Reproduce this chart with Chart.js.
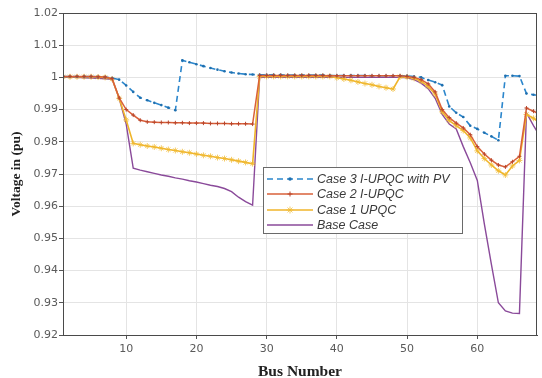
<!DOCTYPE html>
<html><head><meta charset="utf-8">
<script src="https://cdn.jsdelivr.net/npm/chart.js@4"></script>
<style>html,body{margin:0;padding:0;background:#fff;} canvas{display:block;}</style>
</head><body>
<canvas id="c" width="542" height="378"></canvas>
<script>
const buses = [1,2,3,4,5,6,7,8,9,10,11,12,13,14,15,16,17,18,19,20,21,22,23,24,25,26,27,28,29,30,31,32,33,34,35,36,37,38,39,40,41,42,43,44,45,46,47,48,49,50,51,52,53,54,55,56,57,58,59,60,61,62,63,64,65,66,67,68,69];

const case3 = [1.0003,1.0003,1.0003,1.0003,1.0003,1.0002,1.0001,0.9998,0.9993,0.9975,
  0.9955,0.9937,0.9929,0.9921,0.9914,0.9906,0.9898,1.0053,1.0047,1.0041,
  1.0035,1.0029,1.0024,1.0019,1.0015,1.0012,1.0010,1.0009,1.0008,1.0008,
  1.0008,1.0008,1.0007,1.0007,1.0007,1.0007,1.0007,1.0007,1.0006,1.0006,
  1.0006,1.0006,1.0006,1.0006,1.0005,1.0005,1.0005,1.0005,1.0005,1.0005,
  1.0003,1.0000,0.9992,0.9985,0.9976,0.9910,0.9890,0.9877,0.9850,0.9840,
  0.9828,0.9817,0.9805,1.0005,1.0005,1.0004,0.9950,0.9946,0.9944];

const case2 = [1.0003,1.0003,1.0003,1.0003,1.0003,1.0002,1.0001,0.9996,0.9936,0.9900,
  0.9883,0.9867,0.9862,0.9861,0.9860,0.9860,0.9859,0.9859,0.9858,0.9858,
  0.9858,0.9857,0.9857,0.9857,0.9856,0.9856,0.9856,0.9855,1.0006,1.0006,
  1.0006,1.0006,1.0006,1.0006,1.0006,1.0006,1.0006,1.0006,1.0005,1.0005,
  1.0005,1.0005,1.0005,1.0005,1.0005,1.0005,1.0005,1.0005,1.0005,1.0003,
  1.0000,0.9993,0.9980,0.9955,0.9900,0.9875,0.9858,0.9843,0.9822,0.9785,
  0.9762,0.9743,0.9728,0.9722,0.9738,0.9755,0.9905,0.9895,0.9883];

const case1 = [1.0002,1.0002,1.0002,1.0002,1.0002,1.0001,1.0000,0.9995,0.9935,0.9868,
  0.9795,0.9791,0.9787,0.9784,0.9780,0.9776,0.9773,0.9769,0.9766,0.9762,
  0.9758,0.9755,0.9751,0.9748,0.9744,0.9740,0.9736,0.9732,1.0003,1.0003,
  1.0003,1.0003,1.0003,1.0003,1.0003,1.0003,1.0003,1.0003,1.0003,0.9999,
  0.9995,0.9991,0.9986,0.9981,0.9977,0.9972,0.9968,0.9964,1.0002,1.0001,
  0.9997,0.9988,0.9972,0.9948,0.9893,0.9866,0.9850,0.9835,0.9812,0.9772,
  0.9748,0.9728,0.9710,0.9697,0.9725,0.9742,0.9885,0.9873,0.9858];

const baseCase = [1.0000,1.0000,1.0000,0.9999,0.9998,0.9997,0.9996,0.9994,0.9935,0.9855,
  0.9718,0.9712,0.9707,0.9702,0.9697,0.9693,0.9688,0.9684,0.9679,0.9675,
  0.9670,0.9665,0.9661,0.9655,0.9645,0.9628,0.9614,0.9603,1.0000,1.0000,
  1.0000,1.0000,1.0000,1.0000,1.0000,1.0000,1.0000,1.0000,1.0000,1.0000,
  1.0000,1.0000,1.0000,1.0000,1.0000,1.0000,1.0000,1.0000,1.0000,0.9999,
  0.9993,0.9982,0.9965,0.9935,0.9885,0.9855,0.9840,0.9785,0.9735,0.9680,
  0.9545,0.9420,0.9300,0.9275,0.9268,0.9267,0.9890,0.9850,0.9815];

const seriesLabels = ['Case 3 I-UPQC with PV','Case 2 I-UPQC','Case 1 UPQC','Base Case'];
const xTicks = [10,20,30,40,50,60];
const yTicks = [0.92,0.93,0.94,0.95,0.96,0.97,0.98,0.99,1.00,1.01,1.02];
const yTickLabels = ['0.92','0.93','0.94','0.95','0.96','0.97','0.98','0.99','1','1.01','1.02'];
const xTitle = 'Bus Number';
const yTitle = 'Voltage in (pu)';

function pts(arr){ return buses.map((b,i)=>({x:b, y:arr[i]})); }

const datasets = [
  {label:seriesLabels[0], data:pts(case3), borderColor:'#2b86cc', backgroundColor:'#2b86cc',
   borderWidth:1.6, borderDash:[6,4], pointStyle:'circle', pointRadius:1.3, pointBorderWidth:0,
   pointBackgroundColor:'#1f6fae', order:1},
  {label:seriesLabels[1], data:pts(case2), borderColor:'#d9603a', backgroundColor:'#d9603a',
   borderWidth:1.5, pointStyle:'cross', pointRadius:2, pointBorderWidth:1,
   pointBorderColor:'#b9452a', order:0},
  {label:seriesLabels[2], data:pts(case1), borderColor:'#f0b52a', backgroundColor:'rgba(240,190,60,0.5)',
   borderWidth:1.6, pointStyle:'star', pointRadius:3, pointBorderWidth:1,
   pointBorderColor:'rgba(240,185,50,0.75)', order:2},
  {label:seriesLabels[3], data:pts(baseCase), borderColor:'#8a4a9a', backgroundColor:'#8a4a9a',
   borderWidth:1.4, pointRadius:0, order:3}
];
datasets.forEach(d=>{ d.tension=0; d.fill=false; });

const bgPlugin = {
  id:'bg',
  beforeDraw(chart){ const c=chart.ctx; c.save(); c.fillStyle='#fff'; c.fillRect(0,0,chart.width,chart.height); c.restore(); }
};

const boxLegendPlugin = {
  id:'boxLegend',
  afterDraw(chart){
    const ctx = chart.ctx, a = chart.chartArea;
    ctx.save();
    ctx.strokeStyle = '#4a4a4a'; ctx.lineWidth = 1;
    ctx.strokeRect(Math.round(a.left)+0.5, Math.round(a.top)+0.5, Math.round(a.right-a.left)-1, Math.round(a.bottom-a.top));
    // legend box
    const lx = a.left + 200, ly = a.top + 154, lw = 199, lh = 66;
    ctx.fillStyle = '#fff';
    ctx.fillRect(lx, ly, lw, lh);
    ctx.strokeStyle = '#6a6a6a';
    ctx.strokeRect(lx+0.5, ly+0.5, lw, lh);
    const rows = [12, 27, 43, 58];
    chart.data.datasets.forEach((ds, i)=>{
      const y = ly + rows[i];
      ctx.save();
      ctx.strokeStyle = ds.borderColor; ctx.lineWidth = ds.borderWidth;
      ctx.setLineDash(ds.borderDash || []);
      ctx.beginPath(); ctx.moveTo(lx+4, y); ctx.lineTo(lx+50, y); ctx.stroke();
      ctx.setLineDash([]);
      if (ds.pointRadius > 0 && Chart.helpers && Chart.helpers.drawPoint) {
        ctx.fillStyle = ds.pointBackgroundColor || ds.backgroundColor;
        ctx.strokeStyle = ds.pointBorderColor || ds.borderColor;
        ctx.lineWidth = ds.pointBorderWidth || 1;
        Chart.helpers.drawPoint(ctx, {pointStyle: ds.pointStyle, radius: ds.pointRadius + 0.5, borderWidth: ds.pointBorderWidth, rotation:0}, lx+27, y);
      }
      ctx.restore();
      ctx.fillStyle = '#3a3a3a';
      ctx.font = 'italic 12.5px "Liberation Sans", Arial, sans-serif';
      ctx.textBaseline = 'middle'; ctx.textAlign = 'left';
      ctx.fillText(ds.label, lx + 54, y + 1);
    });
    ctx.restore();
  }
};

new Chart(document.getElementById('c'), {
  type:'line',
  data:{datasets},
  plugins:[bgPlugin, boxLegendPlugin],
  options:{
    responsive:false, animation:false, devicePixelRatio:1,
    layout:{padding:{top:13, right:2, left:0, bottom:0}},
    plugins:{legend:{display:false}, tooltip:{enabled:false}},
    elements:{line:{tension:0}},
    scales:{
      x:{
        type:'linear', min:1, max:68.5,
        afterBuildTicks:(s)=>{ s.ticks = xTicks.map(v=>({value:v})); },
        afterFit:(s)=>{ s.height = 43; },
        grid:{color:'#e4e4e4', lineWidth:1, drawTicks:true, tickLength:4, tickColor:'#555'},
        border:{display:true, color:'#4a4a4a'},
        ticks:{font:{family:'"DejaVu Sans", sans-serif', size:11}, color:'#5a5a5a', padding:4, maxRotation:0, autoSkip:false,
               callback:(v)=>String(v)},
        title:{display:true, text:xTitle, color:'#222',
               font:{family:'"Liberation Serif", "Times New Roman", serif', size:15.5, weight:'bold', lineHeight:0.8},
               padding:{top:0, bottom:0}}
      },
      y:{
        type:'linear', min:0.92, max:1.02,
        afterBuildTicks:(s)=>{ s.ticks = yTicks.map(v=>({value:v})); },
        afterFit:(s)=>{ s.width = 63; },
        grid:{color:'#e4e4e4', lineWidth:1, drawTicks:true, tickLength:4, tickColor:'#555'},
        border:{display:true, color:'#4a4a4a'},
        ticks:{font:{family:'"DejaVu Sans", sans-serif', size:11}, color:'#5a5a5a', padding:1,
               callback:(v)=>{ const i = yTicks.findIndex(t=>Math.abs(t-v)<1e-6); return i>=0 ? yTickLabels[i] : ''; }},
        title:{display:true, text:yTitle, color:'#222',
               font:{family:'"Liberation Serif", "Times New Roman", serif', size:13.5, weight:'bold', lineHeight:1.2},
               padding:{top:8, bottom:0}}
      }
    }
  }
});
</script>
</body></html>
